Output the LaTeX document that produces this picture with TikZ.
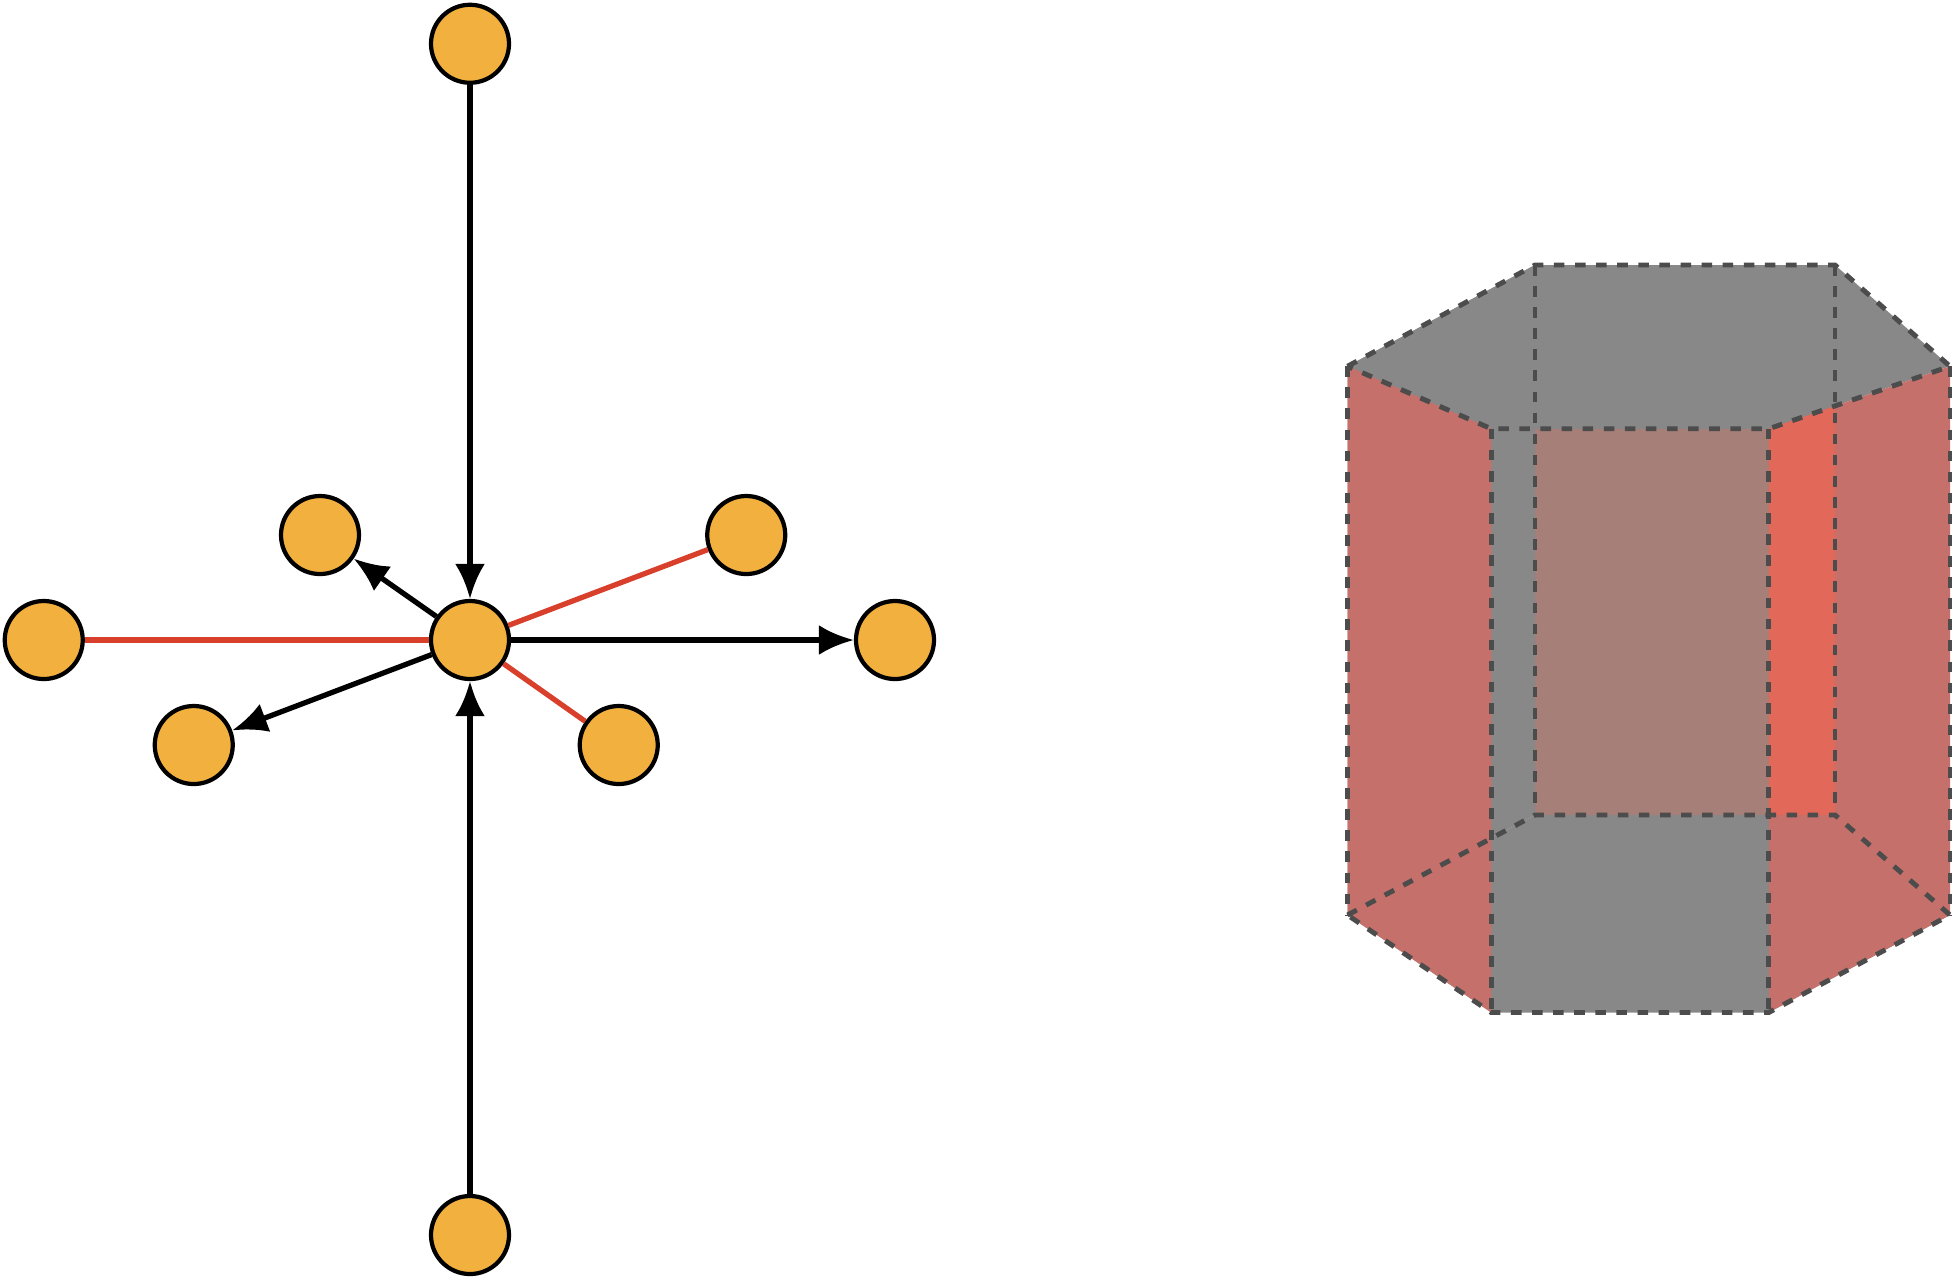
\documentclass[tikz,border=0pt]{standalone}
\usetikzlibrary{arrows.meta}
\definecolor{ballfill}{HTML}{F2B13E}
\definecolor{linkred}{HTML}{D9402B}
\definecolor{facered}{HTML}{C5706A}
\definecolor{brightred}{HTML}{E2685A}
\definecolor{backface}{HTML}{A67F78}
\definecolor{facegray}{HTML}{888888}
\begin{document}
\begin{tikzpicture}[x=0.0125cm,y=-0.0125cm,
	ball/.style={circle,draw,line width=1.2pt,fill=ballfill,minimum size=0.78cm,inner sep=0pt},
	push/.style={-{Latex[length=3.5mm,width=3mm]},line width=1.5pt},
	bond/.style={linkred,line width=1.5pt},
	edge/.style={dashed,line width=1.4pt,black!70}]
	\useasboundingbox (0,0) rectangle (1568,1022);
	% left: star of balls
	\node[ball] (top) at (376,35) {};
	\node[ball] (mid) at (376,512) {};
	\node[ball] (bot) at (376,988) {};
	\node[ball] (lft) at (35,512) {};
	\node[ball] (rgt) at (716,512) {};
	\node[ball] (ul) at (256,428) {};
	\node[ball] (ur) at (597,428) {};
	\node[ball] (ll) at (155,596) {};
	\node[ball] (lr) at (495,596) {};
	\draw[bond] (lft) -- (mid);
	\draw[bond] (mid) -- (ur);
	\draw[bond] (mid) -- (lr);
	\draw[push] (top) -- (mid);
	\draw[push] (bot) -- (mid);
	\draw[push] (mid) -- (rgt);
	\draw[push] (mid) -- (ul);
	\draw[push] (mid) -- (ll);
	% right: hexagonal prism
	\coordinate (tbl) at (1228,212); \coordinate (tbr) at (1468,212);
	\coordinate (tr) at (1560,293); \coordinate (tfr) at (1415,343);
	\coordinate (tfl) at (1193,343); \coordinate (tl) at (1078,293);
	\coordinate (bbl) at (1228,652); \coordinate (bbr) at (1468,652);
	\coordinate (br) at (1560,732); \coordinate (bfr) at (1415,810);
	\coordinate (bfl) at (1193,810); \coordinate (bl) at (1078,732);
	\fill[backface] (tbl) -- (tbr) -- (bbr) -- (bbl) -- cycle;
	\fill[facegray] (tl) -- (tbl) -- (bbl) -- (bl) -- cycle;
	\fill[facegray] (tl) -- (tbl) -- (tbr) -- (tr) -- (tfr) -- (tfl) -- cycle;
	\fill[facegray] (bl) -- (bbl) -- (bbr) -- (br) -- (bfr) -- (bfl) -- cycle;
	\fill[facered] (tl) -- (tfl) -- (bfl) -- (bl) -- cycle;
	\fill[facered] (tfr) -- (tr) -- (br) -- (bfr) -- cycle;
	\fill[brightred] (tfr) -- (1468,325) -- (bbr) -- (1415,652) -- cycle;
	\draw[edge] (tl) -- (tbl) -- (tbr) -- (tr) -- (tfr) -- (tfl) -- cycle;
	\draw[edge] (bl) -- (bbl) -- (bbr) -- (br) -- (bfr) -- (bfl) -- cycle;
	\foreach \a/\b in {tl/bl,tbl/bbl,tbr/bbr,tr/br,tfr/bfr,tfl/bfl}
		\draw[edge] (\a) -- (\b);
\end{tikzpicture}
\end{document}
